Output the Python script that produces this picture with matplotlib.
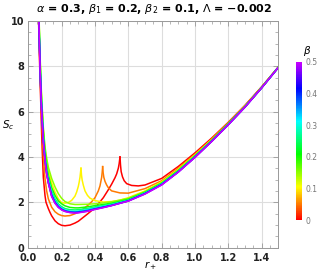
import colorsys
import matplotlib
matplotlib.use("Agg")
import matplotlib.pyplot as plt
from matplotlib.colors import ListedColormap, Normalize
from matplotlib.colorbar import ColorbarBase
import numpy as np

# shared r grid for the smooth curves (beta >= 0.15)
r_grid = [0.06, 0.065, 0.07, 0.075, 0.08, 0.09, 0.10, 0.11, 0.12, 0.14, 0.16, 0.18, 0.20, 0.22,
          0.25, 0.28, 0.30, 0.35, 0.40, 0.45, 0.50, 0.60, 0.70, 0.80, 0.90, 1.00, 1.10, 1.20,
          1.30, 1.40, 1.50]

S_015 = [11.5, 10.0, 8.6, 7.5, 6.6, 5.3, 4.45, 3.95, 3.55, 3.05, 2.68, 2.38, 2.17, 2.03, 1.93, 1.9,
         1.9, 1.91, 1.93, 1.97, 2.02, 2.17, 2.47, 2.87, 3.42, 4.06, 4.74, 5.47, 6.23, 7.07, 7.96]
S_020 = [11.3, 9.8, 8.4, 7.3, 6.4, 5.1, 4.2, 3.6, 3.2, 2.65, 2.3, 2.06, 1.93, 1.84, 1.77, 1.75,
         1.75, 1.79, 1.85, 1.90, 1.96, 2.13, 2.44, 2.84, 3.40, 4.04, 4.72, 5.46, 6.22, 7.06, 7.96]
S_025 = [11.2, 9.7, 8.3, 7.2, 6.3, 4.95, 4.05, 3.45, 3.05, 2.5, 2.15, 1.93, 1.8, 1.72, 1.67, 1.66,
         1.67, 1.72, 1.79, 1.85, 1.92, 2.10, 2.42, 2.82, 3.38, 4.02, 4.71, 5.45, 6.22, 7.06, 7.95]
S_030 = [11.1, 9.6, 8.2, 7.1, 6.2, 4.85, 3.97, 3.37, 2.97, 2.4, 2.07, 1.87, 1.74, 1.66, 1.61, 1.6,
         1.61, 1.67, 1.75, 1.82, 1.89, 2.08, 2.40, 2.80, 3.36, 4.01, 4.70, 5.44, 6.21, 7.05, 7.95]
S_035 = [11.1, 9.5, 8.1, 7.0, 6.1, 4.8, 3.92, 3.32, 2.92, 2.34, 2.02, 1.83, 1.71, 1.63, 1.58, 1.57,
         1.58, 1.64, 1.72, 1.79, 1.87, 2.07, 2.39, 2.79, 3.35, 4.00, 4.69, 5.43, 6.21, 7.05, 7.95]
S_040 = [11.0, 9.45, 8.05, 6.95, 6.05, 4.75, 3.88, 3.28, 2.88, 2.3, 1.99, 1.8, 1.68, 1.61, 1.56, 1.55,
         1.56, 1.61, 1.70, 1.78, 1.86, 2.06, 2.38, 2.78, 3.34, 3.99, 4.69, 5.43, 6.20, 7.05, 7.95]
S_045 = [11.0, 9.42, 8.02, 6.92, 6.02, 4.72, 3.86, 3.26, 2.86, 2.27, 1.97, 1.78, 1.67, 1.6, 1.55, 1.535,
         1.545, 1.6, 1.69, 1.77, 1.855, 2.055, 2.37, 2.77, 3.335, 3.985, 4.685, 5.42, 6.20, 7.05, 7.95]
S_050 = [11.0, 9.4, 8.0, 6.9, 6.0, 4.7, 3.85, 3.25, 2.85, 2.25, 1.95, 1.77, 1.66, 1.59, 1.54, 1.52,
         1.53, 1.59, 1.68, 1.76, 1.85, 2.05, 2.36, 2.76, 3.33, 3.98, 4.68, 5.42, 6.20, 7.05, 7.95]

# beta = 0 (two branches with a cusp)
r_000_left = [0.06, 0.065, 0.07, 0.075, 0.08, 0.085, 0.09, 0.10, 0.106, 0.12, 0.13, 0.14, 0.16, 0.18,
              0.20, 0.22, 0.25, 0.28, 0.30, 0.35, 0.40, 0.45, 0.48, 0.50, 0.52, 0.53, 0.54, 0.545, 0.55]
S_000_left = [10.5, 8.9, 7.5, 6.3, 5.0, 4.0, 3.1, 2.3, 2.0, 1.72, 1.55, 1.4, 1.18, 1.05,
              0.98, 0.96, 0.99, 1.08, 1.16, 1.45, 1.75, 2.2, 2.55, 2.8, 3.08, 3.25, 3.5, 3.7, 4.0]
r_000_right = [0.55, 0.553, 0.557, 0.565, 0.575, 0.59, 0.62, 0.66, 0.70, 0.80, 0.90, 1.00, 1.10,
               1.20, 1.30, 1.40, 1.50]
S_000_right = [4.0, 3.65, 3.35, 3.12, 2.95, 2.82, 2.74, 2.72, 2.76, 3.05, 3.58, 4.18, 4.83,
               5.53, 6.28, 7.10, 7.97]

# beta = 0.05
r_005_left = [0.06, 0.065, 0.07, 0.075, 0.08, 0.09, 0.10, 0.11, 0.12, 0.14, 0.16, 0.18, 0.20, 0.22,
              0.25, 0.28, 0.30, 0.33, 0.36, 0.38, 0.40, 0.42, 0.43, 0.44, 0.443, 0.446]
S_005_left = [10.8, 9.2, 7.8, 6.7, 5.7, 4.1, 3.05, 2.5, 2.15, 1.78, 1.58, 1.47, 1.41, 1.39,
              1.41, 1.49, 1.56, 1.7, 1.88, 2.02, 2.2, 2.5, 2.72, 3.1, 3.3, 3.57]
r_005_right = [0.446, 0.449, 0.453, 0.46, 0.47, 0.48, 0.50, 0.55, 0.60, 0.70, 0.80, 0.90, 1.00,
               1.10, 1.20, 1.30, 1.40, 1.50]
S_005_right = [3.57, 3.3, 3.1, 2.92, 2.76, 2.64, 2.5, 2.41, 2.4, 2.6, 2.95, 3.5, 4.12,
               4.78, 5.5, 6.26, 7.08, 7.96]

# beta = 0.1
r_010_left = [0.06, 0.065, 0.07, 0.075, 0.08, 0.09, 0.10, 0.11, 0.12, 0.14, 0.16, 0.18, 0.20, 0.22,
              0.24, 0.26, 0.28, 0.29, 0.30, 0.305, 0.31, 0.313, 0.316]
S_010_left = [11.4, 9.9, 8.5, 7.4, 6.5, 5.2, 4.35, 3.8, 3.4, 2.85, 2.45, 2.15, 1.98, 1.96,
              1.99, 2.08, 2.27, 2.45, 2.7, 2.88, 3.1, 3.3, 3.5]
r_010_right = [0.316, 0.319, 0.323, 0.33, 0.34, 0.355, 0.37, 0.40, 0.45, 0.50, 0.55, 0.60, 0.70,
               0.80, 0.90, 1.00, 1.10, 1.20, 1.30, 1.40, 1.50]
S_010_right = [3.5, 3.2, 2.98, 2.75, 2.5, 2.3, 2.18, 2.07, 2.01, 2.03, 2.09, 2.2, 2.5,
               2.9, 3.45, 4.08, 4.76, 5.48, 6.24, 7.07, 7.96]

beta_max = 0.5


def beta_color(b):
    return colorsys.hsv_to_rgb(0.8 * b / beta_max, 1.0, 1.0)


plt.rcParams['font.family'] = 'DejaVu Sans'
plt.rcParams['mathtext.fontset'] = 'dejavusans'

fig = plt.figure(figsize=(3.27, 2.80), dpi=100)
ax = fig.add_axes([0.0866, 0.116, 0.7646, 0.809])

lw = 1.1
ax.plot(r_000_left, S_000_left, color=beta_color(0.0), lw=lw)
ax.plot(r_000_right, S_000_right, color=beta_color(0.0), lw=lw)
ax.plot(r_005_left, S_005_left, color=beta_color(0.05), lw=lw)
ax.plot(r_005_right, S_005_right, color=beta_color(0.05), lw=lw)
ax.plot(r_010_left, S_010_left, color=beta_color(0.1), lw=lw)
ax.plot(r_010_right, S_010_right, color=beta_color(0.1), lw=lw)
for b, s in [(0.15, S_015), (0.20, S_020), (0.25, S_025), (0.30, S_030),
             (0.35, S_035), (0.40, S_040), (0.45, S_045), (0.50, S_050)]:
    ax.plot(r_grid, s, color=beta_color(b), lw=lw)

ax.set_xlim(0, 1.5)
ax.set_ylim(0, 10)
ax.set_xticks([0.0, 0.2, 0.4, 0.6, 0.8, 1.0, 1.2, 1.4])
ax.set_xticklabels(['0.0', '0.2', '0.4', '0.6', '0.8', '1.0', '1.2', '1.4'])
ax.set_yticks([0, 2, 4, 6, 8, 10])
ax.set_xticks(np.arange(0, 1.51, 0.05), minor=True)
ax.set_yticks(np.arange(0, 10.01, 0.5), minor=True)
ax.grid(True, which='major', color='#dddddd', lw=0.8)
ax.set_axisbelow(True)
for sp in ax.spines.values():
    sp.set_color('#999999')
    sp.set_linewidth(0.7)
ax.tick_params(which='both', direction='in', top=True, right=True, color='#999999',
               labelsize=7)
ax.tick_params(axis='x', pad=4)
ax.tick_params(axis='y', pad=3)
ax.tick_params(which='major', length=3.5, width=0.6)
ax.tick_params(which='minor', length=2, width=0.5)
ax.tick_params(top=True, right=True, labeltop=False, labelright=False)
for lab in ax.get_xticklabels() + ax.get_yticklabels():
    lab.set_fontweight('bold')
    lab.set_color('#222222')

fig.text(0.024, 0.553, r'$S_c$', fontsize=7.5, ha='center', va='center')
fig.text(0.459, 0.05, r'$r_+$', fontsize=7.5, ha='center', va='center')
fig.text(0.47, 0.968, r'$\alpha$ = 0.3, $\beta_1$ = 0.2, $\beta_2$ = 0.1, $\Lambda$ = −0.002',
         fontsize=8, fontweight='bold', ha='center', va='center')

# colour bar
cax = fig.add_axes([0.905, 0.214, 0.018, 0.565])
n = 256
cmap = ListedColormap([beta_color(b) for b in np.linspace(0, beta_max, n)])
cb = ColorbarBase(cax, cmap=cmap, norm=Normalize(0, beta_max), orientation='vertical')
cb.outline.set_visible(False)
cb.set_ticks([0, 0.1, 0.2, 0.3, 0.4, 0.5])
cb.set_ticklabels(['0', '0.1', '0.2', '0.3', '0.4', '0.5'])
cax.tick_params(length=0, labelsize=5.5, labelcolor='#777777', pad=3)
fig.text(0.938, 0.819, r'$\beta$', fontsize=7.5, ha='center', va='center')

fig.savefig('out.png', dpi=100)
